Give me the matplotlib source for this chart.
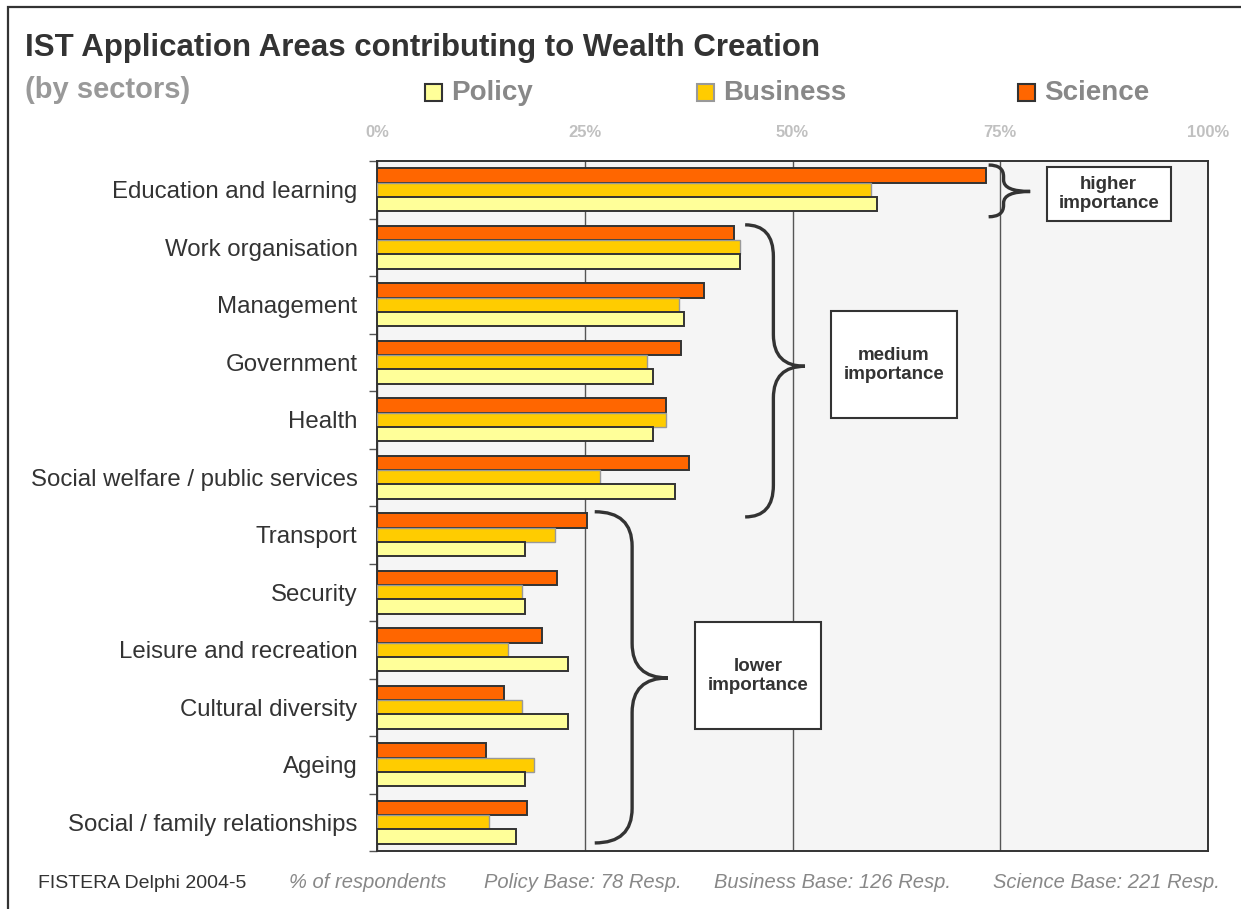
import matplotlib.pyplot as plt
import numpy as np
from matplotlib.patches import Rectangle, PathPatch
from matplotlib.path import Path

plt.rcParams['font.family'] = ['Liberation Sans', 'DejaVu Sans']

categories = ['Education and learning', 'Work organisation', 'Management', 'Government',
              'Health', 'Social welfare / public services', 'Transport', 'Security',
              'Leisure and recreation', 'Cultural diversity', 'Ageing',
              'Social / family relationships']
science = [73.3, 43.0, 39.3, 36.6, 34.8, 37.5, 25.3, 21.7, 19.9, 15.3, 13.1, 18.0]
business = [59.4, 43.7, 36.3, 32.5, 34.8, 26.8, 21.4, 17.4, 15.8, 17.4, 18.9, 13.5]
policy = [60.2, 43.7, 37.0, 33.2, 33.2, 35.9, 17.8, 17.8, 23.0, 23.0, 17.8, 16.7]
xticks = [0, 25, 50, 75, 100]
xticklabels = ['0%', '25%', '50%', '75%', '100%']

W, H = 1241, 909
fig = plt.figure(figsize=(W / 100, H / 100), dpi=100)
fig.patch.set_facecolor('white')

# outer frame
fig.patches.append(Rectangle((8 / W, -0.1), 1.2, 1.1 - 7 / H, transform=fig.transFigure,
                             fill=False, edgecolor='#333333', lw=1.6))

ax = fig.add_axes([377 / W, 1 - 851 / H, (1208 - 377) / W, (851 - 161) / H])
ax.set_facecolor('#f5f5f5')

y = np.arange(len(categories))
h = 0.25
ax.barh(y - h, science, height=h, color='#ff6600', edgecolor='#333333', lw=1.4, zorder=3)
ax.barh(y, business, height=h, color='#ffcc00', edgecolor='#999999', lw=1.0, zorder=3)
ax.barh(y + h, policy, height=h, color='#ffff99', edgecolor='#333333', lw=1.4, zorder=3)

ax.set_xlim(0, 100)
ax.set_ylim(len(categories) - 0.5, -0.5)
ax.xaxis.tick_top()
ax.set_xticks(xticks)
ax.set_xticklabels(xticklabels, fontsize=12, fontweight='bold', color='#c0c0c0')
ax.tick_params(axis='x', length=0, pad=15)
ax.grid(axis='x', color='#555555', lw=1.0, zorder=1)
ax.set_yticks(y)
ax.set_yticklabels(categories, fontsize=17.3, color='#333333')
ax.tick_params(axis='y', which='major', length=0, pad=14)
ax.set_yticks(np.arange(len(categories) + 1) - 0.5, minor=True)
ax.tick_params(axis='y', which='minor', length=6, color='#555555', width=1)
for s in ax.spines.values():
    s.set_color('#333333')
    s.set_linewidth(1.4)


def brace(x0, xs, xt, ytop, ybot, ytip, r):
    verts = [(x0, ytop), (xs, ytop), (xs, ytop + r),
             (xs, ytip - r), (xs, ytip), (xt, ytip),
             (xs, ytip), (xs, ytip + r),
             (xs, ybot - r), (xs, ybot), (x0, ybot)]
    codes = [Path.MOVETO, Path.CURVE3, Path.CURVE3,
             Path.LINETO, Path.CURVE3, Path.CURVE3,
             Path.CURVE3, Path.CURVE3,
             Path.LINETO, Path.CURVE3, Path.CURVE3]
    ax.add_patch(PathPatch(Path(verts, codes), fill=False, edgecolor='#333333',
                           lw=2.4, zorder=5, clip_on=False))


brace(73.6, 75.4, 78.6, -0.43, 0.47, 0.03, 0.2)
brace(44.3, 47.7, 51.5, 0.61, 5.69, 3.07, 0.55)
brace(26.2, 30.7, 35.0, 5.60, 11.36, 8.49, 0.6)


def label_box(x0, x1, y0, y1, text):
    ax.add_patch(Rectangle((x0, y0), x1 - x0, y1 - y0, facecolor='white',
                           edgecolor='#333333', lw=1.5, zorder=5))
    ax.text((x0 + x1) / 2, (y0 + y1) / 2, text, ha='center', va='center',
            fontsize=13.5, fontweight='bold', color='#333333', zorder=6, linespacing=1.15)


label_box(80.6, 95.5, -0.40, 0.54, 'higher\nimportance')
label_box(54.6, 69.8, 2.11, 3.97, 'medium\nimportance')
label_box(38.3, 53.4, 7.52, 9.38, 'lower\nimportance')

# titles
fig.text(25 / W, 1 - 48 / H, 'IST Application Areas contributing to Wealth Creation',
         fontsize=22.5, fontweight='bold', color='#333333', va='center')
fig.text(25 / W, 1 - 90 / H, '(by sectors)', fontsize=21, fontweight='bold',
         color='#999999', va='center')

# legend
legend = [('Policy', '#ffff99', '#333333', 425), ('Business', '#ffcc00', '#999999', 697),
          ('Science', '#ff6600', '#333333', 1018)]
for name, fc, ec, px in legend:
    fig.patches.append(Rectangle((px / W, 1 - 101 / H), 17 / W, 17 / H, transform=fig.transFigure,
                                 facecolor=fc, edgecolor=ec, lw=1.5))
    fig.text((px + 26) / W, 1 - 93 / H, name, fontsize=20, fontweight='bold',
             color='#888888', va='center')

# footer
fig.text(38 / W, 1 - 883 / H, 'FISTERA Delphi 2004-5', fontsize=14, color='#333333', va='center')
footer = [('% of respondents', 289), ('Policy Base: 78 Resp.', 484),
          ('Business Base: 126 Resp.', 714), ('Science Base: 221 Resp.', 993)]
for txt, px in footer:
    fig.text(px / W, 1 - 883 / H, txt, fontsize=14.5, style='italic', color='#888888', va='center')

fig.savefig('out.png', dpi=100)
